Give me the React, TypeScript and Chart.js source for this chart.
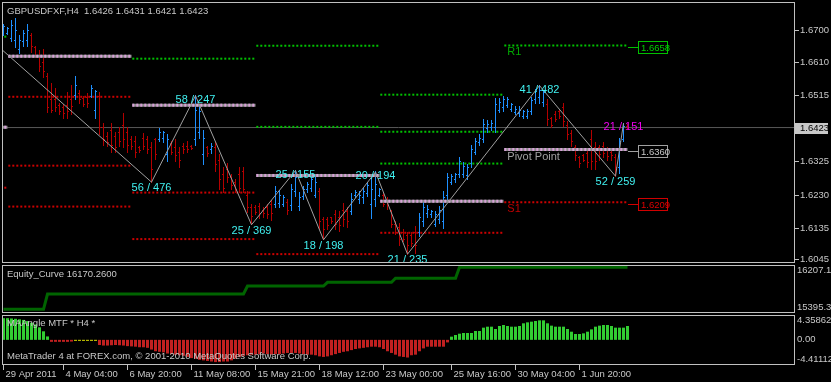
import React, { useEffect, useRef } from "react";
import { Chart, registerables } from "chart.js";

Chart.register(...registerables);

// ---------------- DATA ----------------
const symbolTitle = "GBPUSDFXF,H4  1.6426 1.6431 1.6421 1.6423";

const opens = [1.6693,1.6693,1.6679,1.6673,1.6645,1.6668,1.6673,1.6685,1.6651,1.6630,
 1.6610,1.6570,1.6502,1.6502,1.6485,1.6479,1.6485,1.6502,1.6516,1.6519,
 1.6505,1.6508,1.6513,1.6473,1.6513,1.6422,1.6396,1.6416,1.6396,1.6410,
 1.6430,1.6410,1.6388,1.6382,1.6365,1.6393,1.6388,1.6365,1.6388,1.6388,
 1.6393,1.6345,1.6376,1.6365,1.6353,1.6370,1.6370,1.6370,1.6388,1.6410,
 1.6345,1.6365,1.6359,1.6365,1.6330,1.6288,1.6302,1.6279,1.6265,1.6288,
 1.6296,1.6230,1.6193,1.6193,1.6196,1.6187,1.6193,1.6202,1.6202,1.6207,
 1.6204,1.6210,1.6199,1.6239,1.6196,1.6225,1.6245,1.6250,1.6230,1.6239,
 1.6159,1.6159,1.6165,1.6173,1.6165,1.6187,1.6182,1.6182,1.6228,1.6216,
 1.6222,1.6233,1.6202,1.6216,1.6230,1.6228,1.6213,1.6182,1.6145,1.6136,
 1.6122,1.6113,1.6113,1.6124,1.6122,1.6153,1.6176,1.6173,1.6147,1.6159,
 1.6153,1.6230,1.6267,1.6273,1.6288,1.6290,1.6285,1.6319,1.6353,1.6379,
 1.6388,1.6419,1.6422,1.6422,1.6473,1.6479,1.6485,1.6476,1.6465,1.6462,
 1.6456,1.6456,1.6468,1.6502,1.6508,1.6496,1.6490,1.6448,1.6459,1.6468,
 1.6479,1.6430,1.6405,1.6365,1.6336,1.6342,1.6348,1.6388,1.6365,1.6365,
 1.6368,1.6359,1.6353,1.6336,1.6308,1.6388,1.6426];

const highs = [1.6719,1.6708,1.6728,1.6736,1.6685,1.6702,1.6719,1.6691,1.6656,1.6642,
 1.6645,1.6579,1.6548,1.6536,1.6493,1.6490,1.6522,1.6542,1.6570,1.6528,
 1.6511,1.6519,1.6542,1.6530,1.6522,1.6436,1.6408,1.6436,1.6410,1.6422,
 1.6462,1.6422,1.6396,1.6396,1.6368,1.6405,1.6396,1.6379,1.6393,1.6419,
 1.6413,1.6402,1.6382,1.6388,1.6365,1.6376,1.6382,1.6373,1.6514,1.6488,
 1.6416,1.6370,1.6376,1.6379,1.6345,1.6310,1.6319,1.6290,1.6273,1.6308,
 1.6308,1.6239,1.6202,1.6199,1.6207,1.6193,1.6202,1.6213,1.6253,1.6242,
 1.6230,1.6216,1.6259,1.6300,1.6236,1.6253,1.6265,1.6279,1.6279,1.6250,
 1.6167,1.6167,1.6167,1.6185,1.6182,1.6207,1.6193,1.6233,1.6242,1.6239,
 1.6250,1.6267,1.6279,1.6296,1.6250,1.6236,1.6222,1.6187,1.6153,1.6150,
 1.6130,1.6124,1.6122,1.6139,1.6176,1.6210,1.6199,1.6187,1.6182,1.6196,
 1.6239,1.6293,1.6288,1.6293,1.6336,1.6322,1.6316,1.6373,1.6393,1.6402,
 1.6445,1.6442,1.6442,1.6505,1.6505,1.6511,1.6508,1.6493,1.6482,1.6482,
 1.6473,1.6476,1.6508,1.6533,1.6543,1.6530,1.6502,1.6453,1.6468,1.6473,
 1.6493,1.6439,1.6416,1.6373,1.6339,1.6345,1.6359,1.6416,1.6379,1.6373,
 1.6379,1.6365,1.6359,1.6345,1.6393,1.6435,1.6431];

const lows = [1.6685,1.6688,1.6668,1.6651,1.6636,1.6656,1.6656,1.6639,1.6622,1.6582,
 1.6565,1.6465,1.6465,1.6468,1.6459,1.6450,1.6448,1.6459,1.6502,1.6493,
 1.6482,1.6479,1.6508,1.6450,1.6402,1.6373,1.6368,1.6353,1.6353,1.6368,
 1.6365,1.6353,1.6359,1.6336,1.6353,1.6359,1.6348,1.6267,1.6333,1.6382,
 1.6379,1.6325,1.6345,1.6325,1.6310,1.6350,1.6353,1.6359,1.6373,1.6393,
 1.6316,1.6339,1.6348,1.6296,1.6245,1.6236,1.6267,1.6245,1.6236,1.6236,
 1.6236,1.6179,1.6145,1.6173,1.6162,1.6167,1.6162,1.6156,1.6193,1.6193,
 1.6196,1.6173,1.6187,1.6225,1.6185,1.6216,1.6236,1.6239,1.6222,1.6130,
 1.6102,1.6130,1.6150,1.6130,1.6127,1.6139,1.6136,1.6173,1.6222,1.6207,
 1.6207,1.6225,1.6162,1.6196,1.6225,1.6196,1.6190,1.6136,1.6116,1.6087,
 1.6096,1.6061,1.6082,1.6064,1.6110,1.6139,1.6167,1.6167,1.6139,1.6150,
 1.6133,1.6216,1.6259,1.6267,1.6279,1.6279,1.6273,1.6310,1.6345,1.6373,
 1.6379,1.6410,1.6416,1.6408,1.6465,1.6468,1.6479,1.6468,1.6459,1.6456,
 1.6450,1.6448,1.6459,1.6493,1.6493,1.6482,1.6430,1.6422,1.6439,1.6450,
 1.6425,1.6388,1.6368,1.6330,1.6310,1.6325,1.6308,1.6302,1.6302,1.6330,
 1.6336,1.6330,1.6330,1.6284,1.6293,1.6382,1.6421];

const closes = [1.6711,1.6705,1.6716,1.6702,1.6673,1.6691,1.6702,1.6656,1.6630,1.6599,
 1.6582,1.6479,1.6473,1.6479,1.6468,1.6462,1.6468,1.6482,1.6542,1.6502,
 1.6490,1.6493,1.6536,1.6525,1.6422,1.6388,1.6379,1.6373,1.6365,1.6382,
 1.6388,1.6373,1.6370,1.6353,1.6356,1.6370,1.6359,1.6302,1.6345,1.6410,
 1.6408,1.6388,1.6353,1.6342,1.6330,1.6359,1.6359,1.6362,1.6473,1.6468,
 1.6393,1.6348,1.6370,1.6316,1.6273,1.6250,1.6279,1.6256,1.6245,1.6250,
 1.6245,1.6193,1.6170,1.6179,1.6176,1.6176,1.6173,1.6176,1.6239,1.6230,
 1.6222,1.6187,1.6245,1.6279,1.6222,1.6245,1.6259,1.6273,1.6267,1.6153,
 1.6130,1.6142,1.6153,1.6145,1.6142,1.6159,1.6153,1.6216,1.6236,1.6230,
 1.6239,1.6256,1.6245,1.6259,1.6245,1.6204,1.6199,1.6147,1.6124,1.6102,
 1.6102,1.6087,1.6090,1.6087,1.6165,1.6193,1.6190,1.6182,1.6173,1.6187,
 1.6222,1.6279,1.6282,1.6288,1.6325,1.6313,1.6308,1.6359,1.6382,1.6393,
 1.6433,1.6433,1.6436,1.6490,1.6496,1.6502,1.6502,1.6488,1.6476,1.6473,
 1.6468,1.6470,1.6499,1.6525,1.6530,1.6522,1.6445,1.6430,1.6445,1.6456,
 1.6439,1.6402,1.6382,1.6342,1.6319,1.6330,1.6322,1.6325,1.6325,1.6345,
 1.6348,1.6339,1.6342,1.6308,1.6382,1.6426,1.6423];

const currentPrice = 1.6423;
const priceTicks = [1.6045, 1.6135, 1.623, 1.6325, 1.6515, 1.661, 1.67];

// ZigZag vertices (bar index, price) and their labels
const zzIdx = [-10, 37, 48, 62, 73, 80, 93, 101, 134, 153, 155];
const zzPrice = [1.6743, 1.6267, 1.6514, 1.6145, 1.63, 1.6102, 1.6296, 1.6061, 1.6543, 1.6284, 1.6435];
const zzLabels = ["", "56 / 476", "58 / 247", "25 / 369", "25 / 155", "18 / 198", "20 / 194", "21 / 235", "41 / 482", "52 / 259", "21 / 151"];

// Weekly pivot levels
const weekStart = [-30, 1, 32, 63, 94, 125];
const weekEnd = [1, 32, 63, 94, 125, 156];
const pivotP = [1.6424, 1.6627, 1.6487, 1.6286, 1.6212, 1.636];
const resist = [[1.6683], [], [1.662], [1.6657, 1.6425], [1.6517, 1.6411, 1.632], [1.6658]];
const support = [[1.6251], [1.6511, 1.6314, 1.6197], [1.6237, 1.6104], [1.6061], [1.6122], [1.6209]];

// Equity curve
const eqTitle = "Equity_Curve 16170.2600";
const eqX = [0, 10, 11, 60, 61, 80, 81, 97, 98, 113, 114, 156];
const eqY = [15457.9, 15457.9, 15716.6, 15716.6, 15851.9, 15851.9, 15914.5, 15914.5, 15982.2, 15982.2, 16170.26, 16170.26];
const eqMax = 16207.16;
const eqMin = 15395.34;

// MAAngle MTF histogram
const maTitle = "MAAngle MTF * H4 *";
const maValues = [3.8, 3.8, 3.75, 3.7, 3.6, 3.5, 3.3, 3.0, 2.7, 2.2, 1.5, 0.6,
 -0.35, -0.35, -0.35, -0.35, -0.35, -0.3,
 -0.15, -0.15, -0.15, -0.15, -0.15, -0.15,
 -0.9, -1.0, -1.0, -0.95, -0.9, -0.95, -1.0, -1.1, -1.15, -1.2,
 -1.3, -1.3, -1.4, -1.7, -2.0, -2.1, -2.2, -2.4, -2.5, -2.6,
 -2.7, -2.8, -3.0, -3.2, -3.3, -3.5, -3.6, -3.7, -3.8, -3.9,
 -3.9, -3.8, -3.8, -3.6, -3.3, -3.0, -2.8, -2.7, -2.6, -2.6,
 -2.5, -2.4, -2.5, -2.6, -2.5, -2.5, -2.4, -2.3, -2.3, -2.3,
 -2.4, -2.5, -2.6, -2.6, -2.7, -2.9, -3.0, -2.9, -2.7, -2.5,
 -2.3, -2.1, -2.0, -1.8, -1.6, -1.5, -1.4, -1.3, -1.2, -1.2,
 -1.3, -1.6, -2.0, -2.3, -2.6, -2.9, -3.0, -3.1, -2.7, -2.6,
 -2.0, -1.5, -1.2, -1.2, -1.2, -1.2, -1.2, -0.45,
 0.56, 0.85, 1.08, 1.2, 1.2, 1.2, 1.55, 1.55, 2.14, 2.31,
 2.31, 1.9, 2.43, 2.61, 2.43, 2.31, 2.31, 2.43, 2.9, 3.07,
 3.19, 3.31, 3.42, 3.42, 2.9, 2.49, 2.31, 2.31, 2.31, 1.9,
 1.43, 1.03, 1.03, 1.14, 1.43, 1.84, 2.31, 2.49, 2.61, 2.61,
 2.43, 2.14, 2.14, 2.14, 2.43];
const maFlat = [18, 19, 20, 21, 22, 23];
const maMax = 4.358625;
const maMin = -4.41112;
const maMaxLabel = "4.358625";
const maZeroLabel = "0.00";
const maMinLabel = "-4.411125";
const watermark = "MetaTrader 4 at FOREX.com, \u00A9 2001-2010 MetaQuotes Software Corp.";

// Time axis
const dateIdx = [0, 15, 31, 47, 63, 79, 95, 112, 128, 144];
const dateLabels = ["29 Apr 2011", "4 May 04:00", "6 May 20:00", "11 May 08:00", "15 May 21:00", "18 May 12:00", "23 May 00:00", "25 May 16:00", "30 May 04:00", "1 Jun 20:00"];

// ---------------- STYLE ----------------
const W = 831;
const FONT = '"Liberation Sans", Arial, sans-serif';
const TXT = "#c8c8c8";
const BORDER = "#c0c0c0";
const BLUE = "#1e90ff";
const DOWN = "#b40000";
const GREEN_DOT = "#00c000";
const RED_DOT = "#cc0000";
const PINK = "#d8a0d8";
const PIVOT_GRAY = "#8c8c8c";
const CYAN = "#40f0f0";
const MAGENTA = "#f000f0";
const X_MIN = -0.375;
const X_MAX = 197.875;
const Y_MIN = 1.60356;
const Y_MAX = 1.67821;
const AXIS_W = 36;
const SEG_GAP = 0.2;

const idx = opens.map((_, i) => i);

const baseOptions: any = {
  responsive: false,
  maintainAspectRatio: false,
  animation: false,
  devicePixelRatio: 1,
  events: [],
  plugins: { legend: { display: false }, tooltip: { enabled: false } },
};

const panelBorder = {
  id: "panelBorder",
  afterDraw(chart: any) {
    const { ctx, chartArea: a } = chart;
    ctx.save();
    ctx.strokeStyle = BORDER;
    ctx.lineWidth = 1;
    ctx.strokeRect(a.left + 0.5, a.top + 0.5, a.right - a.left - 1, a.bottom - a.top - 1);
    ctx.restore();
  },
};

// OHLC bars, drawn through the chart's own scales right after the bid line dataset
const ohlcBars = {
  id: "ohlcBars",
  afterDatasetDraw(chart: any, args: any) {
    const ds = chart.data.datasets[args.index];
    if (!ds.ohlcAfter) return;
    const { ctx, scales, chartArea: a } = chart;
    const x = scales.x, y = scales.y;
    ctx.save();
    ctx.beginPath();
    ctx.rect(a.left, a.top, a.right - a.left, a.bottom - a.top);
    ctx.clip();
    idx.forEach((i) => {
      const px = Math.floor(x.getPixelForValue(i));
      const yh = Math.floor(y.getPixelForValue(highs[i]));
      const yl = Math.floor(y.getPixelForValue(lows[i]));
      ctx.fillStyle = closes[i] >= opens[i] ? BLUE : DOWN;
      ctx.fillRect(px, yh, 1, Math.max(1, yl - yh + 1));
      ctx.fillRect(px - 1, Math.floor(y.getPixelForValue(opens[i])), 1, 1);
      ctx.fillRect(px + 1, Math.floor(y.getPixelForValue(closes[i])), 1, 1);
    });
    ctx.restore();
  },
};

function priceBox(ctx: any, xLeft: number, yMid: number, text: string, stroke: string, color: string) {
  ctx.strokeStyle = stroke;
  ctx.lineWidth = 1;
  ctx.beginPath();
  ctx.moveTo(xLeft - 10, Math.round(yMid) + 0.5);
  ctx.lineTo(xLeft, Math.round(yMid) + 0.5);
  ctx.stroke();
  ctx.strokeRect(Math.round(xLeft) + 0.5, Math.round(yMid) - 5.5, 29, 12);
  ctx.fillStyle = color;
  ctx.textAlign = "left";
  ctx.textBaseline = "middle";
  ctx.fillText(text, Math.round(xLeft) + 3, Math.round(yMid) + 1);
}

const mainOverlay = {
  id: "mainOverlay",
  afterDatasetsDraw(chart: any) {
    const { ctx, chartArea: a, scales } = chart;
    const x = scales.x, y = scales.y;
    ctx.save();
    ctx.font = `9.5px ${FONT}`;
    ctx.fillStyle = TXT;
    ctx.textAlign = "left";
    ctx.textBaseline = "middle";
    ctx.fillText(symbolTitle, a.left + 5, a.top + 9);

    ctx.save();
    ctx.beginPath();
    ctx.rect(a.left, a.top, a.right - a.left, a.bottom - a.top);
    ctx.clip();
    ctx.font = `11px ${FONT}`;
    ctx.textAlign = "center";
    ctx.textBaseline = "top";
    zzIdx.forEach((xi, k) => {
      const t = zzLabels[k];
      if (!t) return;
      const isHigh = zzPrice[k] > zzPrice[k - 1];
      const px = x.getPixelForValue(xi);
      const py = y.getPixelForValue(zzPrice[k]);
      ctx.fillStyle = k === zzIdx.length - 1 ? MAGENTA : CYAN;
      ctx.fillText(t, px, isHigh ? py - 1.5 : py + 0.5);
    });

    const last = weekStart.length - 1;
    const sx = x.getPixelForValue(weekStart[last] + SEG_GAP) + 3;
    ctx.textAlign = "left";
    ctx.textBaseline = "middle";
    ctx.fillStyle = "#00a800";
    ctx.fillText("R1", sx, y.getPixelForValue(resist[last][0]) + 7);
    ctx.fillStyle = "#a0a0a0";
    ctx.fillText("Pivot Point", sx, y.getPixelForValue(pivotP[last]) + 7);
    ctx.fillStyle = "#c00000";
    ctx.fillText("S1", sx, y.getPixelForValue(support[last][0]) + 7);

    ctx.font = `9.5px ${FONT}`;
    const bx = x.getPixelForValue(weekEnd[last]) + 10.5;
    priceBox(ctx, bx, y.getPixelForValue(resist[last][0]) + 1.5, resist[last][0].toFixed(4), "#00c000", "#00d000");
    priceBox(ctx, bx, y.getPixelForValue(pivotP[last]) + 1.5, pivotP[last].toFixed(4), "#a0a0a0", "#c8c8c8");
    priceBox(ctx, bx, y.getPixelForValue(support[last][0]) + 1.5, support[last][0].toFixed(4), "#d00000", "#e00000");
    ctx.restore();

    // current price marker on the axis
    const cy = Math.round(y.getPixelForValue(currentPrice));
    ctx.fillStyle = "#c8c8c8";
    ctx.fillRect(a.right, cy - 5, 33, 11);
    ctx.fillStyle = "#000";
    ctx.font = `9.5px ${FONT}`;
    ctx.textAlign = "left";
    ctx.textBaseline = "middle";
    ctx.fillText(currentPrice.toFixed(4), a.right + 5, cy + 0.5);
    ctx.restore();
  },
};

function lineSeg(x0: number, x1: number, v: number, color: string, width: number, dash: number[], order: number) {
  return {
    type: "line",
    data: [{ x: x0, y: v }, { x: x1, y: v }],
    borderColor: color,
    borderWidth: width,
    borderDash: dash,
    pointRadius: 0,
    fill: false,
    tension: 0,
    order,
  };
}

function mainConfig(): any {
  const pivots: any[] = [];
  weekStart.forEach((s, k) => {
    const x0 = s + SEG_GAP, x1 = weekEnd[k];
    resist[k].forEach((v) => pivots.push(lineSeg(x0, x1, v, GREEN_DOT, 2, [2, 2], 5)));
    support[k].forEach((v) => pivots.push(lineSeg(x0, x1, v, RED_DOT, 2, [2, 2], 5)));
    pivots.push(lineSeg(x0, x1, pivotP[k], PIVOT_GRAY, 3, [], 6));
    pivots.push(lineSeg(x0, x1, pivotP[k], PINK, 3, [2, 2], 5));
  });
  const bidLine: any = lineSeg(X_MIN, X_MAX, currentPrice, "#585858", 1, [], 12);
  bidLine.ohlcAfter = true;
  const datasets = [
    bidLine,
    ...pivots,
    {
      type: "line",
      data: zzIdx.map((xi, k) => ({ x: xi, y: zzPrice[k] })),
      borderColor: "#a0a0a0",
      borderWidth: 1,
      pointRadius: 0,
      fill: false,
      tension: 0,
      order: 1,
    },
  ];
  return {
    type: "line",
    data: { datasets },
    options: {
      ...baseOptions,
      layout: { padding: { left: 2, top: 2, right: 0, bottom: 1 } },
      scales: {
        x: { type: "linear", display: false, min: X_MIN, max: X_MAX, offset: false },
        y: {
          type: "linear",
          position: "right",
          min: Y_MIN,
          max: Y_MAX,
          afterBuildTicks: (s: any) => {
            s.ticks = priceTicks.map((v) => ({ value: v }));
          },
          afterFit: (s: any) => {
            s.width = AXIS_W;
            s.paddingTop = 0;
            s.paddingBottom = 0;
          },
          ticks: {
            autoSkip: false,
            color: TXT,
            font: { family: FONT, size: 9.5 },
            padding: 1,
            callback: (v: any) => Number(v).toFixed(4),
          },
          grid: { drawOnChartArea: false, drawTicks: true, tickLength: 4, color: BORDER },
          border: { display: false },
        },
      },
    },
    plugins: [ohlcBars, panelBorder, mainOverlay],
  };
}

const equityOverlay = {
  id: "equityOverlay",
  afterDatasetsDraw(chart: any) {
    const { ctx, chartArea: a, scales } = chart;
    const y = scales.y;
    ctx.save();
    ctx.font = `9.5px ${FONT}`;
    ctx.fillStyle = TXT;
    ctx.textAlign = "left";
    ctx.textBaseline = "middle";
    ctx.fillText(eqTitle, a.left + 5, a.top + 9);
    ctx.textBaseline = "top";
    ctx.fillText(eqMax.toFixed(4), a.right + 2, y.getPixelForValue(eqMax) + 1);
    ctx.textBaseline = "bottom";
    ctx.fillText(eqMin.toFixed(4), a.right + 2, y.getPixelForValue(eqMin) - 1);
    ctx.restore();
  },
};

function equityConfig(): any {
  return {
    type: "line",
    data: {
      datasets: [
        {
          data: eqX.map((xv, k) => ({ x: xv, y: eqY[k] })),
          borderColor: "#006400",
          borderWidth: 3,
          pointRadius: 0,
          fill: false,
          tension: 0,
        },
      ],
    },
    options: {
      ...baseOptions,
      layout: { padding: { left: 2, top: 1, right: AXIS_W, bottom: 1 } },
      scales: {
        x: { type: "linear", display: false, min: X_MIN, max: X_MAX },
        y: { type: "linear", display: false, min: eqMin, max: eqMax },
      },
    },
    plugins: [panelBorder, equityOverlay],
  };
}

const maOverlay = {
  id: "maOverlay",
  afterDatasetsDraw(chart: any) {
    const { ctx, chartArea: a, scales } = chart;
    const y = scales.y;
    ctx.save();
    ctx.font = `9.5px ${FONT}`;
    ctx.fillStyle = TXT;
    ctx.textAlign = "left";
    ctx.textBaseline = "middle";
    ctx.fillText(maTitle, a.left + 5, a.top + 8);
    ctx.fillText(watermark, a.left + 5, a.bottom - 9);
    ctx.textBaseline = "top";
    ctx.fillText(maMaxLabel, a.right + 2, y.getPixelForValue(maMax) + 1);
    ctx.textBaseline = "middle";
    ctx.fillText(maZeroLabel, a.right + 2, y.getPixelForValue(0));
    ctx.textBaseline = "bottom";
    ctx.fillText(maMinLabel, a.right + 2, y.getPixelForValue(maMin) - 1);
    ctx.restore();
  },
};

function maConfig(): any {
  const histo = (pred: (i: number) => boolean, color: string) => ({
    type: "bar",
    data: idx.filter(pred).map((i) => ({ x: i, y: maValues[i] })),
    backgroundColor: color,
    barThickness: 3,
    maxBarThickness: 3,
    grouped: false,
    borderWidth: 0,
    inflateAmount: 0,
  });
  return {
    type: "bar",
    data: {
      datasets: [
        histo((i) => !maFlat.includes(i) && maValues[i] >= 0, "#32cd32"),
        histo((i) => !maFlat.includes(i) && maValues[i] < 0, "#c02020"),
        histo((i) => maFlat.includes(i), "#ffff00"),
      ],
    },
    options: {
      ...baseOptions,
      layout: { padding: { left: 2, top: 1, right: AXIS_W, bottom: 0 } },
      scales: {
        x: {
          type: "linear",
          position: "bottom",
          min: X_MIN,
          max: X_MAX,
          offset: false,
          afterBuildTicks: (s: any) => {
            s.ticks = dateIdx.map((v) => ({ value: v }));
          },
          afterFit: (s: any) => {
            s.height = 17;
          },
          ticks: {
            autoSkip: false,
            maxRotation: 0,
            minRotation: 0,
            align: "start",
            labelOffset: 2,
            padding: -1,
            color: TXT,
            font: { family: FONT, size: 9.5 },
            callback: (_v: any, i: number) => dateLabels[i],
          },
          grid: { drawOnChartArea: false, drawTicks: true, tickLength: 5, color: BORDER, offset: false },
          border: { display: false },
        },
        y: { type: "linear", display: false, min: maMin, max: maMax },
      },
    },
    plugins: [panelBorder, maOverlay],
  };
}

export default function App() {
  const r1 = useRef<HTMLCanvasElement | null>(null);
  const r2 = useRef<HTMLCanvasElement | null>(null);
  const r3 = useRef<HTMLCanvasElement | null>(null);

  useEffect(() => {
    document.body.style.margin = "0";
    document.body.style.background = "#000";
    const c1 = new Chart(r1.current as HTMLCanvasElement, mainConfig());
    const c2 = new Chart(r2.current as HTMLCanvasElement, equityConfig());
    const c3 = new Chart(r3.current as HTMLCanvasElement, maConfig());
    return () => {
      c1.destroy();
      c2.destroy();
      c3.destroy();
    };
  }, []);

  return (
    <div style={{ position: "relative", width: W, height: 382, background: "#000", overflow: "hidden" }}>
      <canvas ref={r1} width={W} height={264} style={{ position: "absolute", left: 0, top: 0 }} />
      <canvas ref={r2} width={W} height={50} style={{ position: "absolute", left: 0, top: 264 }} />
      <canvas ref={r3} width={W} height={68} style={{ position: "absolute", left: 0, top: 314 }} />
    </div>
  );
}
